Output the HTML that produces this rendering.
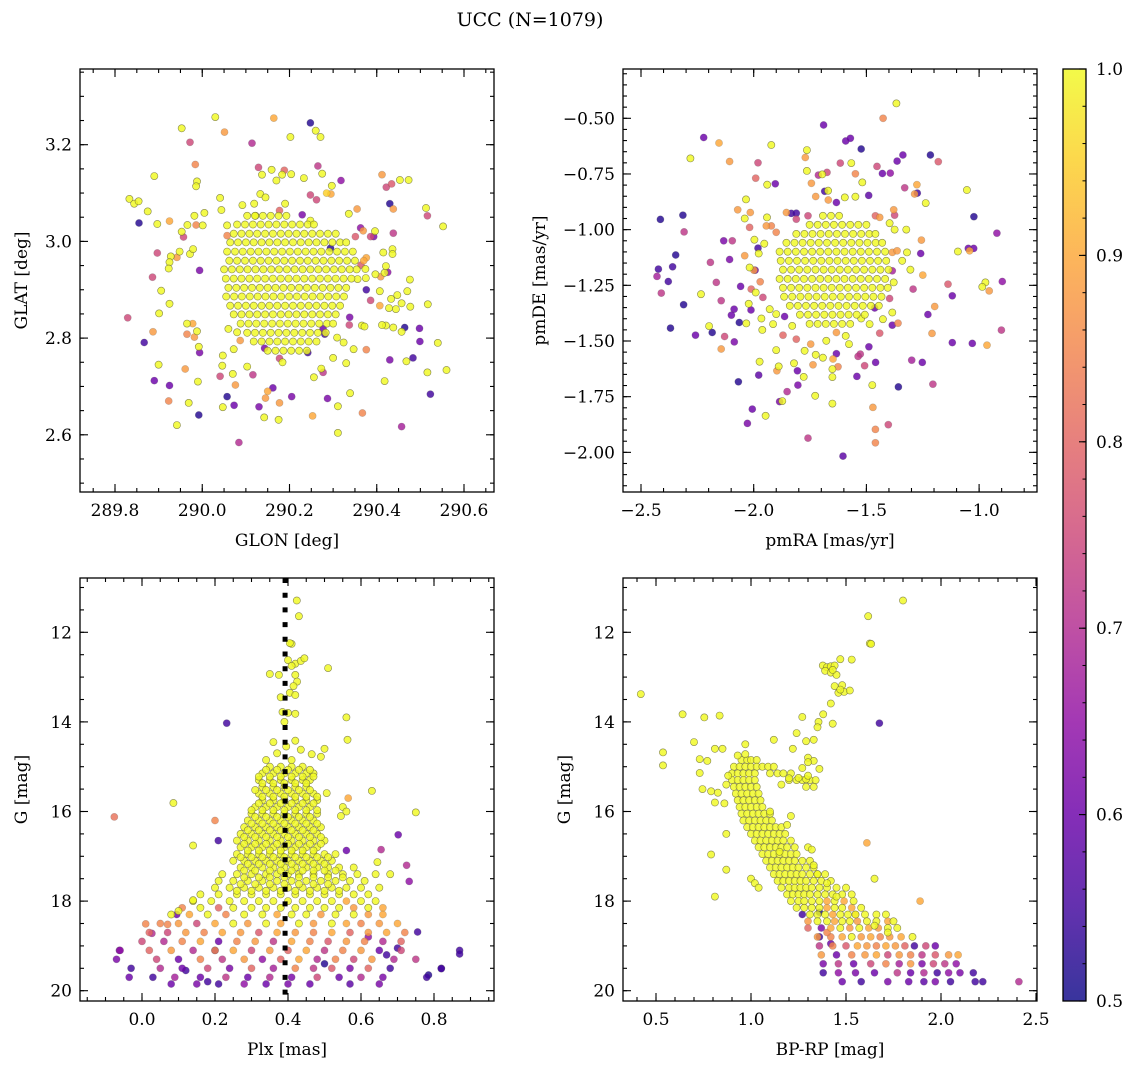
<!DOCTYPE html>
<html><head><meta charset="utf-8"><title>UCC (N=1079)</title>
<style>
html,body{margin:0;padding:0;background:#fff;}
svg{display:block;font-family:"DejaVu Serif","Liberation Serif",serif;}
</style></head>
<body>
<svg id="fig" xmlns="http://www.w3.org/2000/svg" width="1136" height="1068" viewBox="0 0 1136 1068">
<defs>
<linearGradient id="plasmaGrad" x1="0" y1="1" x2="0" y2="0">
<stop offset="0" stop-color="#0d0887"/><stop offset="0.1" stop-color="#41049d"/><stop offset="0.2" stop-color="#6a00a8"/><stop offset="0.3" stop-color="#8f0da4"/><stop offset="0.4" stop-color="#b12a90"/><stop offset="0.5" stop-color="#cc4778"/><stop offset="0.6" stop-color="#e16462"/><stop offset="0.7" stop-color="#f2844b"/><stop offset="0.8" stop-color="#fca636"/><stop offset="0.9" stop-color="#fcce25"/><stop offset="1" stop-color="#f0f921"/>
</linearGradient>
</defs>
<text x="530" y="26" font-size="19" text-anchor="middle">UCC (N=1079)</text>
</svg>
<script>
// ---------- DATA ----------
const p1Outliers=[[290.030,3.257,1],[290.164,3.255,.9],[290.248,3.245,.52],[290.260,3.229,1],[290.271,3.216,1],[289.953,3.234,1],[290.051,3.226,.88],[289.972,3.205,.75],[290.114,3.203,.7],[290.202,3.216,1],[289.984,3.159,.85],[289.890,3.135,1],[289.988,3.124,1],[289.986,3.114,1],[290.129,3.153,.75],[290.159,3.148,1],[290.137,3.138,1],[290.183,3.138,1],[290.188,3.147,.8],[290.204,3.139,1],[290.233,3.131,1],[290.265,3.156,.72],[290.275,3.14,1],[290.318,3.126,.65],[290.170,3.126,1],[290.412,3.138,.88],[290.422,3.112,.75],[290.434,3.119,.78],[290.453,3.127,1],[290.473,3.127,1],[290.297,3.115,1],[290.285,3.1,.95],[290.295,3.098,.9],[290.248,3.096,.75],[290.262,3.086,.75],[290.133,3.098,1],[290.145,3.091,1],[290.041,3.09,1],[290.044,3.065,1],[289.833,3.088,1],[289.844,3.078,1],[289.854,3.083,1],[289.875,3.062,1],[289.855,3.038,.52],[289.897,3.036,1],[289.925,3.042,.9],[289.953,3.02,1],[289.957,3.009,.75],[289.966,3.034,1],[289.982,3.053,1],[289.986,3.034,.85],[290.001,3.033,1],[290.005,3.059,1],[290.057,3.033,1],[290.057,3.012,.85],[290.092,3.075,1],[290.119,3.078,1],[290.122,3.053,1],[290.177,3.064,.8],[290.190,3.078,1],[290.229,3.055,.62],[290.248,3.043,1],[290.336,3.057,1],[290.355,3.067,.88],[290.363,3.028,.65],[290.369,3.022,.88],[290.430,3.078,.52],[290.438,3.067,.88],[290.513,3.069,1],[290.516,3.053,.75],[290.552,3.031,1],[290.438,3.017,.72],[290.393,3.010,.62],[290.386,3.010,.75],[290.396,3.021,1],[290.351,3.01,.78],[289.897,2.976,.75],[289.928,2.969,1],[289.942,2.967,.88],[289.948,2.979,1],[289.972,2.974,1],[289.979,2.984,1],[289.925,2.957,1],[289.923,2.944,1],[289.886,2.926,.75],[289.994,2.94,.62],[289.906,2.898,1],[289.925,2.871,1],[289.901,2.851,1],[289.829,2.842,.75],[289.887,2.813,.88],[289.867,2.791,.55],[289.9,2.745,1],[289.89,2.712,.6],[289.925,2.702,.6],[289.923,2.67,.85],[289.942,2.62,1],[289.961,2.736,.88],[289.969,2.666,1],[289.99,2.71,1],[289.992,2.641,.52],[289.994,2.77,.62],[289.992,2.782,1],[289.965,2.83,1],[289.978,2.83,.9],[289.988,2.814,1],[289.965,2.808,.85],[289.982,2.802,.88],[290.047,2.764,1],[290.046,2.743,1],[290.041,2.721,.75],[290.07,2.726,1],[290.076,2.703,.88],[290.057,2.679,.52],[290.047,2.657,1],[290.073,2.661,.6],[290.084,2.584,.7],[290.116,2.724,.72],[290.103,2.741,1],[290.130,2.658,.62],[290.145,2.676,.88],[290.15,2.69,.9],[290.142,2.636,1],[290.162,2.697,.6],[290.175,2.631,1],[290.177,2.666,.88],[290.205,2.679,.62],[290.253,2.639,.9],[290.287,2.675,.62],[290.311,2.659,1],[290.339,2.686,1],[290.311,2.604,1],[290.367,2.645,.85],[290.457,2.617,.68],[290.523,2.684,.55],[290.56,2.734,1],[290.516,2.729,1],[290.418,2.711,1],[290.43,2.755,.62],[290.468,2.752,1],[290.483,2.759,.55],[290.54,2.79,1],[290.499,2.793,.6],[290.498,2.82,.6],[290.464,2.822,.52],[290.457,2.813,1],[290.438,2.822,1],[290.421,2.826,1],[290.412,2.827,1],[290.477,2.865,1],[290.517,2.87,1],[290.457,2.872,1],[290.447,2.889,1],[290.433,2.881,1],[290.47,2.897,1],[290.444,2.86,1],[290.428,2.862,1],[290.407,2.867,.9],[290.476,2.921,1],[290.407,2.897,1],[290.376,2.9,.55],[290.386,2.878,.75],[290.425,2.936,.65],[290.397,2.932,1],[290.409,2.927,.88],[290.418,2.935,1],[290.374,2.943,1],[290.375,2.924,1],[290.356,2.922,1],[290.436,2.984,1],[290.436,2.974,1],[290.415,2.977,1],[290.421,2.949,1],[290.364,2.951,.78],[290.376,2.966,.9],[290.37,2.96,.9],[290.338,2.843,.62],[290.337,2.827,.75],[290.366,2.826,1],[290.372,2.824,1],[290.376,2.776,.85],[290.33,2.748,1],[290.3,2.759,1],[290.273,2.737,1],[290.277,2.729,.72],[290.256,2.719,1],[290.242,2.77,.55],[290.277,2.819,.6],[290.281,2.808,.55],[290.143,2.779,.62],[290.184,2.75,1],[290.177,2.758,.75],[290.294,2.986,.52],[290.347,2.777,1],[290.324,2.791,1],[290.309,2.801,1],[290.072,2.777,1],[290.08,2.812,1],[290.06,2.819,1],[290.087,2.795,.88]];
const p1CoreLat=[3.053,3.035,3.016,2.998,2.979,2.960,2.942,2.923,2.904,2.886,2.867,2.849,2.830,2.811,2.793,2.774];
const p1CoreLon=[
[290.103,290.121,290.139,290.157,290.175,290.193],
[290.080,290.098,290.116,290.134,290.152,290.170,290.188,290.206,290.224,290.242,290.256],
[290.072,290.090,290.108,290.126,290.144,290.162,290.180,290.198,290.216,290.234,290.252,290.270,290.288,290.306],
[290.064,290.082,290.100,290.118,290.136,290.154,290.172,290.190,290.208,290.226,290.244,290.262,290.280,290.298,290.316,290.330],
[290.057,290.075,290.093,290.111,290.129,290.147,290.165,290.183,290.201,290.219,290.237,290.255,290.273,290.291,290.309,290.327,290.345],
[290.062,290.080,290.098,290.116,290.134,290.152,290.170,290.188,290.206,290.224,290.242,290.260,290.278,290.296,290.314,290.332,290.350],
[290.050,290.068,290.086,290.104,290.122,290.140,290.158,290.176,290.194,290.212,290.230,290.248,290.266,290.284,290.302,290.320,290.338,290.354],
[290.054,290.072,290.090,290.108,290.126,290.144,290.162,290.180,290.198,290.216,290.234,290.252,290.270,290.288,290.306,290.324,290.342],
[290.060,290.078,290.096,290.114,290.132,290.150,290.168,290.186,290.204,290.222,290.240,290.258,290.276,290.294,290.312,290.330],
[290.055,290.073,290.091,290.109,290.127,290.145,290.163,290.181,290.199,290.217,290.235,290.253,290.271,290.289,290.307,290.325],
[290.064,290.082,290.100,290.118,290.136,290.154,290.172,290.190,290.208,290.226,290.244,290.262,290.280,290.298,290.316],
[290.072,290.090,290.108,290.126,290.144,290.162,290.180,290.198,290.216,290.234,290.252,290.270,290.288,290.306],
[290.088,290.106,290.124,290.142,290.160,290.178,290.196,290.214,290.232,290.250,290.268,290.286,290.300],
[290.103,290.121,290.139,290.157,290.175,290.193,290.211,290.229,290.247,290.265,290.283],
[290.118,290.136,290.154,290.172,290.190,290.208,290.226,290.244,290.262],
[290.150,290.168,290.186,290.204,290.222,290.240]];

const p2Outliers=[[-1.367,-0.433,1],[-1.426,-0.5,.85],[-1.690,-0.530,.6],[-2.222,-0.586,.6],[-2.154,-0.611,.9],[-2.281,-0.68,1],[-2.107,-0.694,.88],[-1.922,-0.62,1],[-1.764,-0.643,1],[-1.771,-0.676,.88],[-1.592,-0.602,.6],[-1.571,-0.59,.6],[-1.523,-0.638,.52],[-1.616,-0.701,.75],[-1.567,-0.701,1],[-1.764,-0.736,1],[-1.713,-0.755,.7],[-1.696,-0.752,1],[-1.675,-0.743,.75],[-1.981,-0.70,.75],[-1.991,-0.769,.8],[-1.940,-0.798,1],[-1.904,-0.794,.6],[-1.744,-0.792,.88],[-1.725,-0.851,.88],[-1.685,-0.828,.55],[-1.670,-0.825,1],[-1.669,-0.867,.88],[-1.633,-0.878,.6],[-1.596,-0.855,1],[-1.549,-0.852,1],[-1.549,-0.749,.85],[-1.518,-0.788,1],[-1.490,-0.846,.58],[-1.453,-0.716,.75],[-1.429,-0.748,.6],[-1.394,-0.746,.65],[-1.364,-0.692,.6],[-1.338,-0.665,.6],[-1.216,-0.665,.52],[-1.181,-0.695,.78],[-1.330,-0.812,.72],[-1.276,-0.798,.9],[-1.286,-0.84,.88],[-1.274,-0.836,.55],[-1.237,-0.881,1],[-1.054,-0.822,1],[-1.023,-0.942,.52],[-0.921,-1.016,.65],[-1.094,-1.098,1],[-1.048,-1.084,.6],[-1.024,-1.084,.6],[-1.042,-1.095,.9],[-0.972,-1.237,1],[-0.986,-1.257,1],[-0.955,-1.275,.88],[-0.897,-1.233,.65],[-1.138,-1.245,.78],[-1.119,-1.297,.6],[-0.901,-1.451,.72],[-0.965,-1.519,.9],[-1.030,-1.511,.6],[-1.119,-1.507,.6],[-1.209,-1.466,.88],[-1.197,-1.345,.88],[-1.227,-1.381,.6],[-1.293,-1.267,.72],[-1.250,-1.204,.9],[-1.252,-1.596,.6],[-1.299,-1.586,.68],[-1.205,-1.694,.72],[-1.358,-1.706,.52],[-1.459,-1.596,.6],[-1.508,-1.611,.75],[-1.527,-1.559,.72],[-1.537,-1.569,.72],[-1.489,-1.526,.6],[-1.542,-1.659,.6],[-1.474,-1.698,1],[-1.471,-1.798,.88],[-1.460,-1.897,.85],[-1.460,-1.957,.85],[-1.403,-1.876,.75],[-1.604,-2.017,.58],[-1.759,-1.936,.72],[-1.651,-1.781,1],[-1.727,-1.746,1],[-1.804,-1.698,.62],[-1.778,-1.661,1],[-1.806,-1.634,.6],[-1.852,-1.727,.7],[-1.873,-1.77,1],[-1.885,-1.772,.62],[-1.947,-1.836,1],[-2.006,-1.806,.6],[-2.028,-1.87,.62],[-2.068,-1.683,.52],[-1.978,-1.653,.58],[-1.974,-1.593,1],[-1.897,-1.634,.88],[-1.889,-1.614,1],[-1.900,-1.541,1],[-1.821,-1.6,1],[-1.737,-1.607,.88],[-1.725,-1.562,1],[-1.693,-1.575,1],[-1.648,-1.581,.9],[-1.651,-1.626,1],[-1.651,-1.662,1],[-1.626,-1.616,.85],[-1.633,-1.557,.6],[-2.144,-1.536,.88],[-2.129,-1.48,.75],[-2.086,-1.504,.62],[-2.184,-1.462,.52],[-2.198,-1.433,1],[-2.258,-1.474,.6],[-2.369,-1.442,.52],[-2.311,-1.337,.52],[-2.41,-1.285,.72],[-2.429,-1.21,.68],[-2.423,-1.177,.55],[-2.379,-1.233,.55],[-2.360,-1.167,.55],[-2.346,-1.114,.52],[-2.234,-1.29,1],[-2.414,-0.954,.52],[-2.314,-0.935,.52],[-2.309,-1.01,.72],[-2.192,-1.147,.72],[-2.166,-1.237,.72],[-2.144,-1.319,.72],[-2.133,-1.05,.62],[-2.095,-1.05,.72],[-2.107,-1.134,.62],[-2.058,-1.255,.6],[-2.087,-1.357,.6],[-2.099,-1.384,.6],[-2.064,-1.417,.52],[-2.071,-0.911,.88],[-2.034,-0.864,1],[-2.015,-0.923,.88],[-2.04,-0.95,1],[-2.018,-0.99,.8],[-1.981,-1.083,.55],[-1.997,-1.045,1],[-1.953,-1.063,1],[-1.978,-1.107,1],[-2.04,-1.117,.88],[-2.018,-1.17,1],[-1.999,-1.182,.88],[-1.994,-1.182,.6],[-1.971,-1.234,.85],[-2.011,-1.267,.8],[-1.991,-1.282,1],[-1.959,-1.304,.75],[-2.022,-1.333,1],[-2.033,-1.421,1],[-2.012,-1.361,.6],[-1.966,-1.399,1],[-1.962,-1.45,1],[-1.941,-0.945,1],[-1.922,-0.983,.85],[-1.9,-1.012,.85],[-1.944,-0.983,.88],[-1.855,-0.923,.88],[-1.811,-0.953,.75],[-1.759,-0.938,.75],[-1.833,-0.927,.55],[-1.811,-0.926,.55],[-1.460,-0.938,.8],[-1.441,-0.945,.88],[-1.379,-0.911,.88],[-1.375,-0.935,.75],[-1.397,-0.971,1],[-1.323,-1.0,1],[-1.375,-1.0,1],[-1.256,-1.047,.88],[-1.385,-1.102,.88],[-1.364,-1.095,.88],[-1.32,-1.102,1],[-1.341,-1.14,1],[-1.305,-1.18,1],[-1.259,-1.107,.6],[-1.385,-1.185,.68],[-1.379,-1.237,1],[-1.397,-1.309,.75],[-1.385,-1.372,1],[-1.36,-1.42,.85],[-1.385,-1.429,.6],[-1.441,-1.465,.78],[-1.427,-1.402,1],[-1.486,-1.424,1],[-1.523,-1.399,1],[-1.463,-1.352,.6],[-1.577,-1.514,1],[-1.633,-1.462,.88],[-1.678,-1.499,1],[-1.592,-1.477,1],[-1.774,-1.544,1],[-1.747,-1.514,.88],[-1.811,-1.492,.8],[-1.87,-1.474,.8],[-1.829,-1.432,1],[-1.863,-1.39,.6],[-1.9,-1.379,1],[-1.914,-1.424,1],[-1.929,-1.357,1]];
const p2CoreDE=[-0.938,-0.978,-1.019,-1.059,-1.099,-1.140,-1.180,-1.221,-1.261,-1.301,-1.342,-1.382,-1.423];
const p2CoreRA=[
[-1.693,-1.657,-1.621],
[-1.752,-1.716,-1.680,-1.644,-1.608,-1.572,-1.536,-1.500],
[-1.811,-1.775,-1.739,-1.703,-1.667,-1.631,-1.595,-1.559,-1.523,-1.487,-1.460],
[-1.855,-1.819,-1.783,-1.747,-1.711,-1.675,-1.639,-1.603,-1.567,-1.531,-1.495,-1.459,-1.430],
[-1.885,-1.849,-1.813,-1.777,-1.741,-1.705,-1.669,-1.633,-1.597,-1.561,-1.525,-1.489,-1.453,-1.417],
[-1.880,-1.844,-1.808,-1.772,-1.736,-1.700,-1.664,-1.628,-1.592,-1.556,-1.520,-1.484,-1.448,-1.412],
[-1.870,-1.834,-1.798,-1.762,-1.726,-1.690,-1.654,-1.618,-1.582,-1.546,-1.510,-1.474,-1.438,-1.402],
[-1.885,-1.849,-1.813,-1.777,-1.741,-1.705,-1.669,-1.633,-1.597,-1.561,-1.525,-1.489,-1.453,-1.417],
[-1.870,-1.834,-1.798,-1.762,-1.726,-1.690,-1.654,-1.618,-1.582,-1.546,-1.510,-1.474,-1.438,-1.405],
[-1.865,-1.829,-1.793,-1.757,-1.721,-1.685,-1.649,-1.613,-1.577,-1.541,-1.505,-1.469,-1.433],
[-1.840,-1.804,-1.768,-1.732,-1.696,-1.660,-1.624,-1.588,-1.552,-1.516,-1.480,-1.445],
[-1.795,-1.759,-1.723,-1.687,-1.651,-1.615,-1.579,-1.543,-1.507],
[-1.752,-1.716,-1.680,-1.644,-1.608,-1.572]];

const p3Rows=[
[15.0,[.35,.38,.41,.44]],[15.15,[.33,.36,.39,.42,.45,.47]],[15.3,[.32,.35,.38,.41,.44,.46]],[15.45,[.33,.36,.39,.42,.45]],[15.6,[.32,.35,.38,.41,.44,.47]],[15.75,[.33,.36,.39,.42,.45,.48]],[15.9,[.31,.34,.37,.40,.43,.46]],[16.05,[.30,.33,.36,.39,.42,.45,.48]],[16.2,[.29,.32,.35,.38,.41,.44,.47]],[16.35,[.28,.31,.34,.37,.40,.43,.46,.49]],[16.5,[.27,.30,.33,.36,.39,.42,.45,.48]],[16.65,[.26,.29,.32,.35,.38,.41,.44,.47,.50]],[16.8,[.27,.30,.33,.36,.39,.42,.45,.48]],[16.95,[.26,.29,.32,.35,.38,.41,.44,.47,.50,.53]],[17.1,[.25,.28,.31,.34,.37,.40,.43,.46,.49,.52]],[17.25,[.27,.30,.33,.36,.39,.42,.45,.48,.51,.54,.58]],[17.4,[.22,.26,.30,.34,.37,.40,.43,.47,.51,.55,.59,.64]],[17.55,[.21,.25,.29,.33,.37,.41,.45,.49,.53,.57,.61]],[17.7,[.20,.24,.28,.32,.36,.40,.44,.48,.52,.56,.60,.65]],[17.85,[.16,.21,.26,.30,.34,.38,.42,.46,.50,.54,.58,.62]],
[15.07,[.34,.37,.40,.43,.46]],[15.22,[.32,.35,.38,.41,.44,.47]],[15.37,[.33,.36,.39,.42,.45]],[15.52,[.31,.34,.37,.40,.43,.46]],[15.67,[.33,.36,.39,.42,.45,.48]],[15.82,[.32,.35,.38,.41,.44,.47]],[15.97,[.30,.33,.36,.39,.42,.45,.48]],[16.12,[.31,.34,.37,.40,.43,.46]],[16.27,[.30,.33,.36,.39,.42,.45,.48]],[16.42,[.29,.32,.35,.38,.41,.44,.47]],[16.57,[.28,.31,.34,.37,.40,.43,.46,.49]],[16.72,[.28,.31,.34,.37,.40,.43,.46,.49]],[16.87,[.29,.32,.35,.38,.41,.44,.47]],[17.02,[.27,.30,.33,.36,.39,.42,.45,.48,.51]],[17.17,[.29,.32,.35,.38,.41,.44,.47,.50]],[17.32,[.28,.31,.35,.38,.41,.44,.47,.50,.53]],[17.47,[.28,.32,.35,.39,.43,.47,.51,.55]],[17.62,[.27,.31,.35,.39,.43,.47,.51]],[17.77,[.26,.30,.34,.38,.42,.46,.50,.54]],
[18.0,[.14,.19,.24,.28,.32,.36,.40,.44,.48,.52,.56,.60,.64],[1,1,1,1,1,1,1,1,1,1,.9,1,1]],
[18.15,[.11,.16,.21,.25,.30,.34,.38,.42,.46,.50,.54,.58,.62,.66],[.85,1,.8,1,1,1,1,1,1,1,1,.88,1,.9]],
[18.3,[.08,.13,.18,.23,.28,.33,.37,.41,.45,.49,.53,.58,.62,.66],[1,.9,1,.85,1,1,.9,1,1,.88,1,1,.88,.9]],
[18.5,[.05,.10,.15,.20,.25,.29,.34,.38,.43,.47,.52,.56,.60,.65,.70],[.85,.88,.75,.9,1,.88,1,.9,1,.88,1,.9,.85,.88,.9]],
[18.7,[.02,.07,.12,.17,.22,.27,.32,.37,.42,.47,.52,.57,.62,.67,.72],[.8,.75,.88,.85,.9,.88,.78,.9,.88,.85,.9,.8,.88,.9,.85]],
[18.9,[.0,.06,.11,.16,.21,.26,.31,.36,.41,.46,.51,.56,.61,.66,.71],[.75,.7,.85,.9,.6,.85,.88,.72,.9,.85,.78,.88,.85,.7,.8]],
[19.1,[-.06,.02,.08,.14,.20,.25,.30,.35,.40,.45,.50,.55,.60,.65,.71,.87],[.65,.8,.88,.7,.85,.9,.75,.88,.8,.9,.72,.85,.88,.6,.75,.55]],
[19.3,[-.07,.04,.10,.16,.22,.28,.33,.38,.43,.48,.53,.58,.63,.69,.75],[.62,.75,.6,.85,.72,.88,.65,.8,.9,.7,.85,.75,.88,.7,.72]],
[19.5,[-.03,.05,.11,.18,.24,.30,.36,.42,.47,.52,.57,.62,.68,.82],[.55,.7,.6,.75,.62,.8,.68,.85,.72,.78,.62,.8,.55,.55]],
[19.7,[-.035,.03,.09,.16,.23,.29,.35,.41,.48,.54,.60,.66,.78],[.6,.55,.68,.6,.72,.6,.7,.62,.75,.6,.7,.62,.55]],
[19.85,[.08,.15,.21,.28,.34,.40,.46,.57,.65],[.6,.62,.55,.65,.6,.62,.6,.58,.62]]];
const p3Extra=[[.424,11.29],[.43,11.64],[.41,12.26],[.405,12.24],[.40,12.62],[.42,12.7],[.435,12.64],[.445,12.58],[.41,12.75],[.35,12.93],[.375,12.95],[.51,12.8],[.42,12.95],[.425,13.1],[.415,13.2],[.405,13.35],[.42,13.4],[.38,13.45],[.385,13.78],[.40,13.8],[.42,13.82],[.39,14.0],[.232,14.03,.55],[.56,13.9],[.563,14.4],[.36,14.45],[.42,14.42],[.435,14.62],[.50,14.6],[.49,14.78],[.465,14.72],[.34,14.85],[.37,14.7],[.395,14.55],[.41,14.85],[-.076,16.12,.82],[.086,15.81],[.20,16.2,.85],[.209,16.65,.55],[.14,16.76],[.63,15.54],[.75,16.02],[.702,16.52,.6],[.565,15.7,.9],[.506,15.59],[.55,15.9],[.56,16.0],[.545,16.1],[.56,16.87,.6],[.655,16.85,.7],[.725,17.2,.7],[.732,17.56,.65],[.68,17.4],[.645,17.13],[.87,19.18,.55],[.82,19.51,.55],[.785,19.65,.52],[.755,18.69,.55],[-.062,19.1,.62],[.01,18.51,.85],[.027,18.72,.7],[.07,18.52,.85],[.1,18.22],[.14,17.98],[.095,18.3,.6],[.12,19.55,.55],[.2,19.1,.55],[.18,19.8,.55],[.5,19.4,.52],[.67,19.2,.55],[.7,19.05,.55],[.62,18.8,.65]];
const plxLine=0.392;

const p4Rows=[
[14.85,[.95,.98,1.0,1.03]],[15.0,[.91,.94,.97,1.0,1.03,1.06,1.09,1.12]],[15.15,[.90,.93,.96,.99,1.02,1.1,1.14,1.17,1.21]],[15.3,[.90,.93,.96,.99,1.02,1.2,1.24,1.27,1.31,1.34]],[15.45,[.91,.94,.97,1.0,1.03,1.29,1.33]],[15.6,[.92,.95,.98,1.01,1.04]],[15.75,[.93,.96,.99,1.02,1.05]],[15.9,[.94,.97,1.0,1.03,1.06]],[16.05,[.95,.98,1.01,1.04,1.07,1.10]],[16.2,[.96,.99,1.02,1.05,1.08,1.11]],[16.35,[.98,1.01,1.04,1.07,1.10,1.13,1.16]],[16.5,[1.0,1.03,1.06,1.09,1.12,1.15,1.18]],[16.65,[1.02,1.05,1.08,1.11,1.14,1.17,1.21]],[16.8,[1.04,1.07,1.10,1.13,1.16,1.19,1.23]],[16.95,[1.06,1.09,1.12,1.15,1.18,1.21,1.24]],[17.1,[1.08,1.11,1.14,1.17,1.20,1.23,1.27,1.31]],[17.25,[1.10,1.13,1.16,1.19,1.22,1.25,1.29,1.33]],[17.4,[1.12,1.15,1.18,1.21,1.24,1.27,1.31,1.35,1.39]],[17.55,[1.14,1.17,1.20,1.23,1.26,1.29,1.33,1.37,1.42]],[17.7,[1.16,1.20,1.23,1.26,1.29,1.32,1.36,1.40,1.45,1.50]],[17.85,[1.19,1.22,1.25,1.28,1.31,1.35,1.39,1.43,1.48,1.53]],
[18.0,[1.21,1.25,1.28,1.32,1.36,1.40,1.44,1.49,1.54],[1,1,1,1,1,.9,1,.9,1]],
[18.15,[1.24,1.28,1.32,1.36,1.40,1.44,1.48,1.53,1.58],[1,1,1,1,.9,1,1,.9,1]],
[18.3,[1.27,1.31,1.35,1.39,1.43,1.47,1.51,1.55,1.60,1.66,1.71],[.55,1,1,1,.9,1,1,.9,1,1,1]],
[18.45,[1.30,1.35,1.40,1.44,1.48,1.52,1.56,1.61,1.66,1.72],[.88,1,1,.9,1,1,.88,1,1,.9]],
[18.6,[1.30,1.37,1.42,1.47,1.52,1.57,1.62,1.67,1.72,1.77],[.8,.62,.9,1,.88,1,.9,.88,1,1]],
[18.8,[1.35,1.42,1.48,1.53,1.58,1.63,1.68,1.73,1.79,1.85],[.88,.85,.9,1,.88,.9,.85,.88,.9,1]],
[19.0,[1.36,1.43,1.50,1.56,1.61,1.66,1.71,1.76,1.81,1.86,1.92,1.97],[.72,.85,.78,.9,.88,.85,.9,.88,.8,.55,.75,.6]],
[19.2,[1.37,1.45,1.53,1.60,1.66,1.72,1.78,1.84,1.90,1.97,2.04,2.09],[.88,.6,.85,.88,.9,.75,.88,.85,.72,.78,.88,.9]],
[19.4,[1.38,1.46,1.54,1.63,1.71,1.78,1.84,1.90,1.96,2.02,2.08],[.62,.72,.6,.75,.85,.68,.88,.62,.75,.72,.65]],
[19.6,[1.38,1.46,1.55,1.65,1.77,1.84,1.91,1.98,2.04,2.1,2.17],[.55,.65,.62,.6,.72,.6,.7,.55,.65,.62,.55]],
[19.8,[1.48,1.58,1.72,1.83,1.91,1.97,2.05,2.18,2.22,2.41],[.6,.55,.62,.6,.58,.62,.55,.55,.55,.7]]];
const p4Extra=[[1.80,11.29],[1.617,11.64],[1.625,12.25],[1.632,12.26],[1.47,12.6],[1.53,12.61],[1.378,12.74],[1.40,12.78],[1.42,12.76],[1.44,12.74],[1.39,12.86],[1.42,12.9],[1.45,12.95],[1.43,12.84],[1.44,13.2],[1.48,13.18],[1.46,13.35],[1.49,13.33],[1.52,13.3],[1.47,13.28],[1.42,13.59],[1.38,13.83],[1.43,14.04],[1.355,14.0],[1.35,14.12],[1.27,13.89],[1.24,14.25],[1.33,14.4],[1.29,14.43],[1.22,14.6],[1.12,14.4],[1.30,14.8],[1.33,14.87],[1.30,14.9],[1.36,15.05],[1.27,15.03],[1.25,15.25],[1.29,15.28],[1.30,15.2],[1.2,15.26],[1.16,15.4],[.42,13.38],[.64,13.83],[.754,13.9],[.835,13.86],[.70,14.45],[.537,14.68],[.537,14.97],[.73,14.83],[.77,14.87],[.81,14.6],[.85,14.6],[.73,15.14],[.745,15.5],[.79,15.55],[.826,15.58],[.81,15.8],[.86,15.82],[.87,16.5],[.79,16.96],[.87,17.3],[.81,17.9],[.97,14.5],[.93,14.75],[.97,14.72],[.88,15.2],[.87,15.4],[1.676,14.03,.55],[1.61,16.7,.9],[1.65,17.5],[1.89,18.0,.9],[1.1,16.0],[1.15,16.9],[1.3,16.8],[1.32,16.85],[1.19,16.3],[1.21,16.1],[1.33,17.2],[1.35,17.4],[1.4,17.6],[1.45,17.9],[1.55,18.3],[1.65,18.55],[1.72,18.7],[1.75,18.45],[1.36,18.25,.5],[1.36,18.8,.55],[1.4,18.7,.85],[1.42,18.95,.6],[1.0,17.5],[1.02,17.6],[1.04,17.7]];

const cbTicks=[0.5,0.6,0.7,0.8,0.9,1.0];

// ---------- RENDER ----------
const NS="http://www.w3.org/2000/svg";
const svg=document.getElementById('fig');
function mk(tag,attrs,parent){const e=document.createElementNS(NS,tag);for(const k in attrs)e.setAttribute(k,attrs[k]);(parent||svg).appendChild(e);return e;}
const stops=[[0,[13,8,135]],[.1,[65,4,157]],[.2,[106,0,168]],[.3,[143,13,164]],[.4,[177,42,144]],[.5,[204,71,120]],[.6,[225,100,98]],[.7,[242,132,75]],[.8,[252,166,54]],[.9,[252,206,37]],[1,[240,249,33]]];
function plasma(p){let t=Math.max(0,Math.min(1,(p-0.5)/0.5));for(let i=1;i<stops.length;i++){if(t<=stops[i][0]){const a=stops[i-1],b=stops[i];const f=(t-a[0])/(b[0]-a[0]);const c=a[1].map((v,j)=>Math.round(v+(b[1][j]-v)*f));return `rgb(${c[0]},${c[1]},${c[2]})`;}}return 'rgb(240,249,33)';}
function fmt(v,d){const s=Math.abs(v).toFixed(d);return (v<-1e-9?'\u2212':'')+s;}

const panels=[
 {name:'glon-glat',x0:80,x1:494,y0:69,y1:492,sx:v=>115+(v-289.8)*436.25,sy:v=>144.7+(3.2-v)*483.5,
  xmaj:[289.8,290.0,290.2,290.4,290.6],xmin:[289.75,290.65,0.05],xd:1,ymaj:[2.6,2.8,3.0,3.2],ymin:[2.5,3.35,0.05],yd:1,
  xl:'GLON [deg]',yl:'GLAT [deg]',ylx:22},
 {name:'pmra-pmde',x0:623,x1:1037,y0:69,y1:492,sx:v=>641+(v+2.5)*225.4,sy:v=>118.3+(-0.5-v)*222.7,
  xmaj:[-2.5,-2.0,-1.5,-1.0],xmin:[-2.6,-0.75,0.1],xd:1,ymaj:[-2.0,-1.75,-1.5,-1.25,-1.0,-0.75,-0.5],ymin:[-2.15,-0.3,0.05],yd:2,
  xl:'pmRA [mas/yr]',yl:'pmDE [mas/yr]',ylx:540},
 {name:'plx-g',x0:80,x1:494,y0:578,y1:1001,sx:v=>142+v*365,sy:v=>632.3+(v-12)*44.8,
  xmaj:[0,0.2,0.4,0.6,0.8],xmin:[-0.15,0.95,0.05],xd:1,ymaj:[12,14,16,18,20],ymin:[11,20,0.5],yd:0,
  xl:'Plx [mas]',yl:'G [mag]',ylx:22},
 {name:'bprp-g',x0:623,x1:1037,y0:578,y1:1001,sx:v=>656+(v-0.5)*190,sy:v=>632.3+(v-12)*44.8,
  xmaj:[0.5,1.0,1.5,2.0,2.5],xmin:[0.4,2.5,0.1],xd:1,ymaj:[12,14,16,18,20],ymin:[11,20,0.5],yd:0,
  xl:'BP-RP [mag]',yl:'G [mag]',ylx:565}
];

function collect(i){
 const pts=[];
 if(i===0){p1Outliers.forEach(d=>pts.push([d[0],d[1],d[2]]));p1CoreLat.forEach((la,r)=>p1CoreLon[r].forEach(lo=>pts.push([lo,la,1])));}
 if(i===1){p2Outliers.forEach(d=>pts.push([d[0],d[1],d[2]]));p2CoreDE.forEach((de,r)=>p2CoreRA[r].forEach(ra=>pts.push([ra,de,1])));}
 if(i===2){p3Rows.forEach(r=>r[1].forEach((x,k)=>pts.push([x,r[0],r[2]?r[2][k]:1])));p3Extra.forEach(d=>pts.push([d[0],d[1],d.length>2?d[2]:1]));}
 if(i===3){p4Rows.forEach(r=>r[1].forEach((x,k)=>pts.push([x,r[0],r[2]?r[2][k]:1])));p4Extra.forEach(d=>pts.push([d[0],d[1],d.length>2?d[2]:1]));}
 return pts.sort((a,b)=>a[2]-b[2]);
}

panels.forEach((P,i)=>{
 const g=mk('g',{});
 
 
 const clipId='clip'+i;
 const cp=mk('clipPath',{id:clipId},g);mk('rect',{x:P.x0,y:P.y0,width:P.x1-P.x0,height:P.y1-P.y0},cp);
 const pg=mk('g',{'clip-path':`url(#${clipId})`},g);
 
 
 collect(i).forEach(d=>{
  const c=mk('circle',{cx:P.sx(d[0]).toFixed(1),cy:P.sy(d[1]).toFixed(1),r:3.6,fill:plasma(d[2]),'fill-opacity':0.82,stroke:d[2]>0.95?'#6b6b3a':'#555','stroke-opacity':d[2]>0.95?0.8:0.3,'stroke-width':0.6},pg);
  
  
 });
 if(i===2){
  const ln=mk('line',{x1:P.sx(plxLine),x2:P.sx(plxLine),y1:P.y0,y2:P.y1,stroke:'#000','stroke-width':5,'stroke-dasharray':'5 9.7'},pg);
  
  
 }
 const fr=mk('rect',{x:P.x0,y:P.y0,width:P.x1-P.x0,height:P.y1-P.y0,fill:'none',stroke:'#000','stroke-width':1.3},g);
 
 
 const tk=mk('g',{stroke:'#000','stroke-width':1.1},g);
 
 
 for(let v=P.xmin[0];v<=P.xmin[1]+1e-9;v+=P.xmin[2]){const x=P.sx(v);if(x<P.x0||x>P.x1)continue;mk('line',{x1:x,x2:x,y1:P.y1,y2:P.y1-4},tk);mk('line',{x1:x,x2:x,y1:P.y0,y2:P.y0+4},tk);}
 for(let v=P.ymin[0];v<=P.ymin[1]+1e-9;v+=P.ymin[2]){const y=P.sy(v);if(y<P.y0||y>P.y1)continue;mk('line',{x1:P.x0,x2:P.x0+4,y1:y,y2:y},tk);mk('line',{x1:P.x1,x2:P.x1-4,y1:y,y2:y},tk);}
 P.xmaj.forEach(v=>{const x=P.sx(v);mk('line',{x1:x,x2:x,y1:P.y1,y2:P.y1-8},tk);mk('line',{x1:x,x2:x,y1:P.y0,y2:P.y0+8},tk);
  const t=mk('text',{x:x,y:P.y1+24,'font-size':17,'text-anchor':'middle'},g);t.textContent=fmt(v,P.xd);
  
  });
 P.ymaj.forEach(v=>{const y=P.sy(v);mk('line',{x1:P.x0,x2:P.x0+8,y1:y,y2:y},tk);mk('line',{x1:P.x1,x2:P.x1-8,y1:y,y2:y},tk);
  const t=mk('text',{x:P.x0-8,y:y+6,'font-size':17,'text-anchor':'end'},g);t.textContent=fmt(v,P.yd);
  
  });
 const xt=mk('text',{x:(P.x0+P.x1)/2,y:P.y1+54,'font-size':17,'text-anchor':'middle'},g);xt.textContent=P.xl;
 
 
 const cy=(P.y0+P.y1)/2;
 const yt=mk('text',{x:P.ylx,y:cy,'font-size':17,'text-anchor':'middle',transform:`rotate(-90 ${P.ylx} ${cy})`,'dominant-baseline':'central'},g);yt.textContent=P.yl;
 
 
});

// colorbar
const cb=mk('g',{});


const cbx0=1063,cbx1=1086,cby0=69,cby1=1001;
const cbY=v=>cby1-(v-0.5)/0.5*(cby1-cby0);
const cr=mk('rect',{x:cbx0,y:cby0,width:cbx1-cbx0,height:cby1-cby0,fill:'url(#plasmaGrad)','fill-opacity':0.82},cb);


mk('rect',{x:cbx0,y:cby0,width:cbx1-cbx0,height:cby1-cby0,fill:'none',stroke:'#000','stroke-width':1.3},cb);
for(let v=0.5;v<=1.0001;v+=0.02){const y=cbY(v);mk('line',{x1:cbx1,x2:cbx1-3.5,y1:y,y2:y,stroke:'#000','stroke-width':1},cb);}
cbTicks.forEach(v=>{const y=cbY(v);mk('line',{x1:cbx1,x2:cbx1-7,y1:y,y2:y,stroke:'#000','stroke-width':1.1},cb);
 const t=mk('text',{x:cbx1+10,y:y+6,'font-size':17},cb);t.textContent=v.toFixed(1);
 
 });
</script>
</body></html>
